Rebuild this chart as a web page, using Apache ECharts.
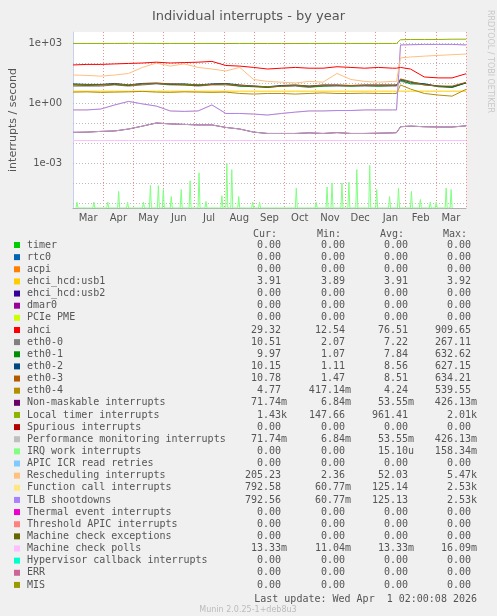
<!DOCTYPE html>
<html lang="en">
<head>
<meta charset="UTF-8">
<title>Individual interrupts - by year</title>
<style>html,body{margin:0;padding:0;background:#f0f0f0;}</style>
</head>
<body>
<div id="main" style="width:497px;height:616px;"></div>
<script src="https://cdn.jsdelivr.net/npm/echarts@6/dist/echarts.min.js"></script>
<script type="text/javascript">
// sample dates (roughly every two weeks)
var dates = ['2025-03-01','2025-03-15','2025-03-29','2025-04-12','2025-04-26','2025-05-10','2025-05-24','2025-06-07',
  '2025-06-21','2025-07-05','2025-07-19','2025-08-02','2025-08-16','2025-08-30','2025-09-13','2025-09-27',
  '2025-10-11','2025-10-25','2025-11-08','2025-11-22','2025-12-06','2025-12-20','2026-01-03','2026-01-17',
  '2026-01-21','2026-01-25','2026-02-04','2026-02-18','2026-03-04','2026-03-18','2026-04-01'];
var months = ['Mar','Apr','May','Jun','Jul','Aug','Sep','Oct','Nov','Dec','Jan','Feb','Mar'];

var localTimer = [950,950,950,950,960,960,950,950,950,950,950,940,950,950,940,940,940,950,950,960,950,950,950,950,950,1450,1500,1500,1500,1550,1550];
var ahci = [80,85,85,90,95,100,110,100,105,110,120,75,70,60,50,55,60,55,55,65,60,55,60,55,55,60,50,20,18,18,29];
var resched = [25,24,22,25,30,60,100,70,90,60,50,40,60,15,12,11,10,12,11,30,15,12,11,12,12,180,200,220,240,260,280];
var tlb = [0.45,0.45,0.5,0.8,1.2,0.9,0.7,0.4,0.38,0.4,0.8,0.3,0.3,0.28,0.25,0.3,0.35,0.4,0.4,0.42,0.42,0.45,0.45,0.45,0.45,800,820,850,850,850,800];
var funcCall = tlb;
var eth0 = [7,7,7,8,7,8,9,8,8,7,8,8,7,7,6,7,7,6,7,7,7,7,7,7,7,12,10,8,7,6,10.5];
var eth1 = [8,7.5,8,8.5,7.5,9,9.5,8.5,8,7.5,8.5,9,7,6.5,6,7,7.5,6.5,7,7.5,7,7.5,7,7.5,7.5,14,9,9,6.5,6,10];
var eth2 = [9,8.5,8.5,9.5,8,9.5,10,9,9,8,9,9.5,8,7,6.5,7.5,8,7,8,8,7.5,8,8,8,8,15,11,9,7,6.5,10.2];
var eth3 = [8.5,8,8,9,8,9,9.5,9,8.5,8,8.5,9,7.5,7,6.5,7,7.5,7,7.5,7.5,7.5,7.5,7.5,7.5,7.5,16,12,8,7,7,10.8];
var eth4 = [3.5,3.6,3.4,3.5,3.6,3.8,3.5,3.4,3.6,3.5,3.4,3.5,3,2.8,3,3,2.8,3,3.2,3,3,3.1,3,3,3,8,5,3,2.5,2.2,4.8];
var usb1 = [3.91,3.91,3.91,3.91,3.91,3.91,3.91,3.91,3.91,3.91,3.91,3.91,3.91,3.91,3.91,3.91,3.91,3.91,3.91,3.91,3.91,3.91,3.91,3.91,3.91,3.91,3.91,3.91,3.91,3.91,3.91];
var perfMon = [0.034,0.035,0.038,0.04,0.05,0.07,0.1,0.09,0.085,0.08,0.08,0.06,0.05,0.035,0.03,0.03,0.03,0.032,0.03,0.033,0.03,0.03,0.031,0.032,0.033,0.065,0.07,0.065,0.063,0.063,0.072];
var mcPolls = [0.0133,0.0133,0.0133,0.0133,0.0133,0.0133,0.0133,0.0133,0.0133,0.0133,0.0133,0.0133,0.0133,0.0133,0.0133,0.0133,0.0133,0.0133,0.0133,0.0133,0.0133,0.0133,0.0133,0.0133,0.0133,0.0133,0.0133,0.0133,0.0133,0.0133,0.0133];
// IRQ work spikes: day offset from 2025-03-01, value
var irqDays = [4,21,35,46,55,71,78,86,91,99,109,118,127,134,150,155,160,167,181,188,225,245,256,261,271,278,286,299,306,319,328,341,350,360,366,376,381];
var irqVals = [1.1e-5,1.1e-5,1.1e-5,3.8e-5,1.1e-5,1.1e-5,7.6e-5,7.4e-5,4.7e-5,2.1e-5,4.7e-5,1.3e-4,3.2e-4,1.2e-5,2.3e-5,9.3e-4,4.7e-4,2.1e-5,1.1e-5,1.1e-5,
  5.6e-5,1.1e-5,6.3e-5,1e-4,1e-4,1.1e-4,4.7e-4,7.6e-4,4.7e-5,2.1e-5,5.6e-5,3.8e-5,1.5e-5,1.1e-5,1.1e-5,5.6e-5,4.7e-5];
var decadeExps = [-5,-4,-3,-2,-1,0,1,2,3];
var labelExps = [-3,0,3];
var tickLabels = ['1e-03','1e+00','1e+03'];

var legNames = ['timer','rtc0','acpi','ehci_hcd:usb1','ehci_hcd:usb2','dmar0','PCIe PME','ahci','eth0-0','eth0-1','eth0-2','eth0-3','eth0-4',
  'Non-maskable interrupts','Local timer interrupts','Spurious interrupts','Performance monitoring interrupts','IRQ work interrupts',
  'APIC ICR read retries','Rescheduling interrupts','Function call interrupts','TLB shootdowns','Thermal event interrupts',
  'Threshold APIC interrupts','Machine check exceptions','Machine check polls','Hypervisor callback interrupts','ERR','MIS'];
var legColors = ['#00cc00','#0066b3','#ff8000','#ffcc00','#330099','#990099','#ccff00','#ff0000','#808080','#008f00','#00487d','#b35a00','#b38f00',
  '#6b006b','#8fb300','#b30000','#bebebe','#80ff80','#80c9ff','#ffc080','#ffe680','#aa80ff','#ee00cc','#ff8080','#666600','#ffbfff','#00ffcc','#cc6699','#999900'];
var legCur = ['0.00','0.00','0.00','3.91','0.00','0.00','0.00','29.32','10.51','9.97','10.15','10.78','4.77','71.74m','1.43k','0.00','71.74m','0.00',
  '0.00','205.23','792.58','792.56','0.00','0.00','0.00','13.33m','0.00','0.00','0.00'];
var legMin = ['0.00','0.00','0.00','3.89','0.00','0.00','0.00','12.54','2.07','1.07','1.11','1.47','417.14m','6.84m','147.66','0.00','6.84m','0.00',
  '0.00','2.36','60.77m','60.77m','0.00','0.00','0.00','11.04m','0.00','0.00','0.00'];
var legAvg = ['0.00','0.00','0.00','3.91','0.00','0.00','0.00','76.51','7.22','7.84','8.56','8.51','4.24','53.55m','961.41','0.00','53.55m','15.10u',
  '0.00','52.03','125.14','125.13','0.00','0.00','0.00','13.33m','0.00','0.00','0.00'];
var legMax = ['0.00','0.00','0.00','3.92','0.00','0.00','0.00','909.65','267.11','632.62','627.15','634.21','539.55','426.13m','2.01k','0.00','426.13m','158.34m',
  '0.00','5.47k','2.53k','2.53k','0.00','0.00','0.00','16.09m','0.00','0.00','0.00'];

var yMin = Math.pow(10, -5.25), yMax = Math.pow(10, 3.55);
var t0 = Date.UTC(2025, 2, 1), t1 = Date.UTC(2026, 3, 1), day = 86400000;

function pts(arr) {
  return arr.map(function (v, i) { return [dates[i], v]; });
}
var irqData = [];
for (var i = 0; i < irqDays.length; i++) {
  irqData.push([t0 + (irqDays[i] - 1) * day, yMin]);
  irqData.push([t0 + irqDays[i] * day, irqVals[i]]);
  irqData.push([t0 + (irqDays[i] + 1) * day, yMin]);
}

function line(name, data, color) {
  return { name: name, type: 'line', xAxisIndex: 1, data: data, showSymbol: false,
    lineStyle: { color: color, width: 1 }, itemStyle: { color: color }, animation: false, z: 3 };
}

var series = [
  line('Machine check polls', pts(mcPolls), '#ffbfff'),
  line('IRQ work interrupts', irqData, '#80ff80'),
  line('Non-maskable interrupts', pts(perfMon), '#6b006b'),
  line('Performance monitoring interrupts', pts(perfMon), '#c0a8c0'),
  line('ehci_hcd:usb1', pts(usb1), '#ffcc00'),
  line('eth0-4', pts(eth4), '#b38f00'),
  line('eth0-0', pts(eth0), '#808080'),
  line('eth0-1', pts(eth1), '#008f00'),
  line('eth0-2', pts(eth2), '#00487d'),
  line('eth0-3', pts(eth3), '#b35a00'),
  line('Function call interrupts', pts(funcCall), '#ffe680'),
  line('TLB shootdowns', pts(tlb), '#aa80ff'),
  line('Rescheduling interrupts', pts(resched), '#ffc080'),
  line('ahci', pts(ahci), '#ff0000'),
  line('Local timer interrupts', pts(localTimer), '#8fb300')
];

var graphics = [];
var mono = 'DejaVu Sans Mono';
var rowH = 12.14;
var hdr = [['Cur:', 287], ['Min:', 351], ['Avg:', 414], ['Max:', 477]];
hdr.forEach(function (h) {
  graphics.push({ type: 'text', x: h[1] - 10, y: 234, style: { text: h[0], font: '10px ' + mono, fill: '#555', textAlign: 'right', textVerticalAlign: 'middle' } });
});
legNames.forEach(function (n, i) {
  var y = 245 + i * rowH;
  graphics.push({ type: 'rect', shape: { x: 14, y: y - 3, width: 6, height: 6 }, style: { fill: legColors[i] } });
  graphics.push({ type: 'text', x: 27, y: y, style: { text: n, font: '10px ' + mono, fill: '#555', textVerticalAlign: 'middle' } });
  [legCur, legMin, legAvg, legMax].forEach(function (col, k) {
    var v = col[i];
    var xr = hdr[k][1] - (/[mkKu]$/.test(v) ? 0 : 6);
    graphics.push({ type: 'text', x: xr, y: y, style: { text: v, font: '10px ' + mono, fill: '#555', textAlign: 'right', textVerticalAlign: 'middle' } });
  });
});
graphics.push({ type: 'text', x: 477, y: 599, style: { text: 'Last update: Wed Apr  1 02:00:08 2026', font: '10px ' + mono, fill: '#555', textAlign: 'right', textVerticalAlign: 'middle' } });
graphics.push({ type: 'text', x: 248, y: 610, style: { text: 'Munin 2.0.25-1+deb8u3', font: '8px DejaVu Sans', fill: '#bbb', textAlign: 'center', textVerticalAlign: 'middle' } });
graphics.push({ type: 'text', x: 490, y: 10, rotation: -Math.PI / 2, style: { text: 'RRDTOOL / TOBI OETIKER', font: '8px DejaVu Sans', fill: '#c8c8c8', textVerticalAlign: 'middle' } });

var option = {
  backgroundColor: '#f0f0f0',
  animation: false,
  title: { text: 'Individual interrupts - by year', left: 'center', top: 5,
    textStyle: { fontFamily: 'DejaVu Sans', fontSize: 13, fontWeight: 'normal', color: '#555' } },
  grid: { left: 67, right: 31, top: 32, bottom: 408, backgroundColor: '#fff', show: true, borderWidth: 0 },
  xAxis: [
    { type: 'category', data: months, boundaryGap: true,
      axisLine: { lineStyle: { color: '#b0b0b0' } }, axisTick: { show: false },
      axisLabel: { color: '#555', fontFamily: 'DejaVu Sans', fontSize: 10, margin: 5 },
      splitLine: { show: true, interval: 0, lineStyle: { color: '#ee9090', type: [1, 2] } } },
    { type: 'time', min: t0, max: t1, show: false }
  ],
  yAxis: { type: 'log', min: yMin, max: yMax, logBase: 10,
    axisLine: { show: true, lineStyle: { color: '#c8d0f0' } }, axisTick: { show: false },
    axisLabel: { show: false }, splitLine: { show: false },
    name: 'interrupts / second', nameLocation: 'middle', nameGap: 54,
    nameTextStyle: { fontFamily: 'DejaVu Sans', fontSize: 11, color: '#555' } },
  series: series,
  graphic: graphics
};

var myChart = echarts.init(document.getElementById('main'));
myChart.setOption(option);

// y tick labels and decade grid lines placed through the log axis scale
var rect = myChart.getModel().getComponent('grid').coordinateSystem.getRect();
var extra = [];
decadeExps.forEach(function (ex) {
  var py = Math.round(myChart.convertToPixel({ yAxisIndex: 0 }, Math.pow(10, ex))) + 0.5;
  extra.push({ type: 'line', z: 1, shape: { x1: rect.x, y1: py, x2: rect.x + rect.width, y2: py },
    style: { stroke: '#bbbbbb', lineWidth: 1, lineDash: [1, 2] } });
  var k = labelExps.indexOf(ex);
  if (k >= 0) {
    extra.push({ type: 'text', x: 62, y: py, style: { text: tickLabels[k], font: '10px DejaVu Sans', fill: '#555', textAlign: 'right', textVerticalAlign: 'middle' } });
  }
});
myChart.setOption({ graphic: graphics.concat(extra) });
</script>
</body>
</html>
